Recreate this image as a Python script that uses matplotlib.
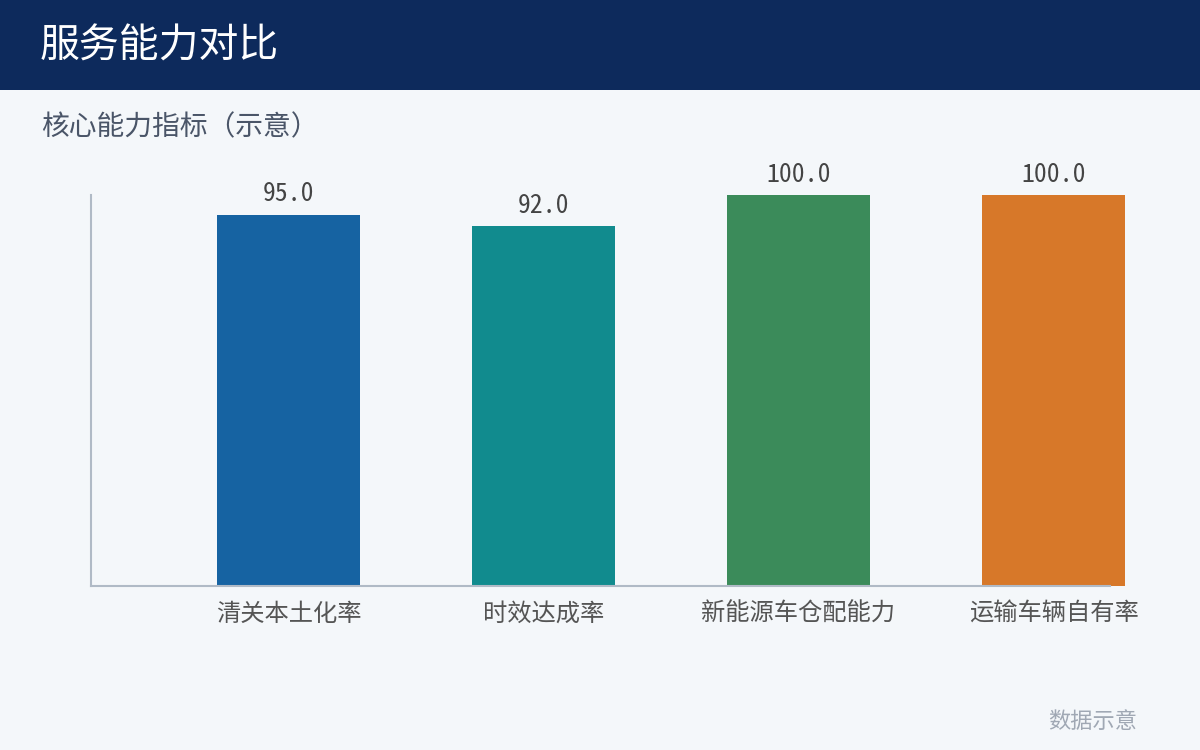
import matplotlib.pyplot as plt
from matplotlib.patches import Rectangle

# === DATA ===
categories = ['清关本土化率', '时效达成率', '新能源车仓配能力', '运输车辆自有率']
values = [95.0, 92.0, 100.0, 100.0]
bar_colors = ['#1663A2', '#118B8E', '#3B8B5A', '#D77829']

title = '服务能力对比'
subtitle = '核心能力指标（示意）'
footer = '数据示意'

plt.rcParams['font.family'] = ['Noto Sans CJK SC', 'DejaVu Sans']

fig = plt.figure(figsize=(12, 7.5), dpi=100)
fig.patch.set_facecolor('#F4F7FA')

# header band
fig.patches.append(Rectangle((0, 1 - 90 / 750), 1, 90 / 750, transform=fig.transFigure,
                             facecolor='#0D2A5C', edgecolor='none', zorder=0))
fig.text(40 / 1200, 1 - 47 / 750, title, color='white', fontsize=28.7, va='center', ha='left')
fig.text(41 / 1200, 1 - 127 / 750, subtitle, color='#4A5568', fontsize=20, va='center', ha='left')
fig.text(1137 / 1200, 1 - 721 / 750, footer, color='#A0A8B4', fontsize=16, va='center', ha='right')

# === Plot
ax = fig.add_axes([91 / 1200, 1 - 585.5 / 750, (1110 - 91) / 1200, (585.5 - 195) / 750])
ax.set_facecolor('none')
x = range(len(categories))
bars = ax.bar(x, values, width=0.56, color=bar_colors, clip_on=False, zorder=2)

for b, v in zip(bars, values):
    ax.annotate(f'{v:.1f}', (b.get_x() + b.get_width() / 2, v), xytext=(0, 6),
                textcoords='offset points', ha='center', va='bottom',
                fontsize=18.5, color='#444444',
                family=['Noto Sans Mono CJK SC', 'DejaVu Sans Mono'])

ax.set_xlim(-0.7745, 3.2216)
ax.set_ylim(0, 100)
ax.set_xticks(list(x))
ax.set_xticklabels(categories, fontsize=17.5, color='#555555')
ax.tick_params(axis='x', length=0, pad=11)
ax.set_yticks([])
for side in ['top', 'right']:
    ax.spines[side].set_visible(False)
for side in ['left', 'bottom']:
    ax.spines[side].set_color('#B0BAC6')
    ax.spines[side].set_linewidth(1.5)

fig.savefig('out.png', dpi=100, facecolor=fig.get_facecolor())
